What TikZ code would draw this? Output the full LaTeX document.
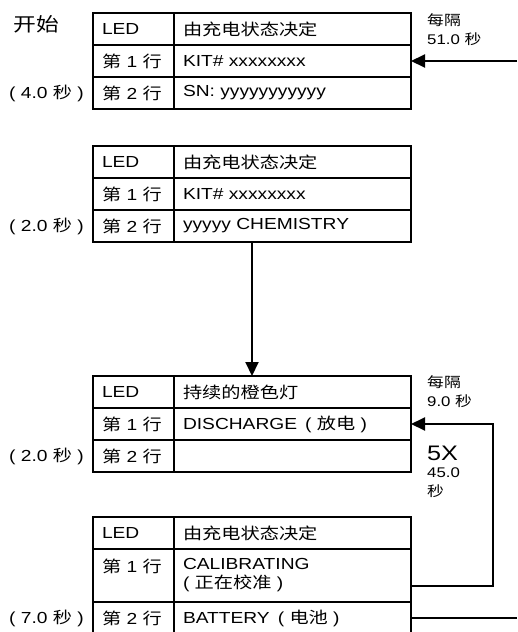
\documentclass[tikz,border=0pt]{standalone}
\usepackage{fontspec}
\setmainfont{Liberation Sans}[FakeStretch=1.2]
\newfontfamily\cjk{Noto Sans CJK SC}[FakeStretch=1.2]
\newcommand{\zh}[1]{{\cjk #1}}
\usepackage{tikz}
\usetikzlibrary{positioning, arrows.meta, calc}

\begin{document}
\begin{tikzpicture}[x=1pt, y=1pt, font=\fontsize{16}{19}\selectfont,
			cell/.style={draw, rectangle, line width=2pt, outer sep=0pt, inner xsep=9pt, inner ysep=0pt, minimum height=32pt, align=left},
			cola/.style={cell, text width=63pt},
			colb/.style={cell, text width=219pt},
			side/.style={inner sep=0pt, align=left},
			note/.style={side, anchor=north west, font=\fontsize{14}{19}\selectfont},
			arr/.style={line width=2pt, -{Triangle[length=14pt, width=13pt]}},
			wire/.style={line width=2pt}
			]
			\useasboundingbox (0,0) rectangle (517,-632);
			
			% first screen
			\node [cola, anchor=north west](t1a1) at (93,-13) {LED};
			\node [colb](t1b1) [right=0pt of t1a1] {\zh{由充电状态决定}};
			\node [cola](t1a2) [below=0pt of t1a1] {\zh{第} 1 \zh{行}};
			\node [colb](t1b2) [right=0pt of t1a2] {KIT\# xxxxxxxx};
			\node [cola](t1a3) [below=0pt of t1a2] {\zh{第} 2 \zh{行}};
			\node [colb](t1b3) [right=0pt of t1a3] {SN: yyyyyyyyyyy};
			
			% second screen
			\node [cola, anchor=north west](t2a1) at (93,-146) {LED};
			\node [colb](t2b1) [right=0pt of t2a1] {\zh{由充电状态决定}};
			\node [cola](t2a2) [below=0pt of t2a1] {\zh{第} 1 \zh{行}};
			\node [colb](t2b2) [right=0pt of t2a2] {KIT\# xxxxxxxx};
			\node [cola](t2a3) [below=0pt of t2a2] {\zh{第} 2 \zh{行}};
			\node [colb](t2b3) [right=0pt of t2a3] {yyyyy CHEMISTRY};
			
			% third screen
			\node [cola, anchor=north west](t3a1) at (93,-376) {LED};
			\node [colb](t3b1) [right=0pt of t3a1] {\zh{持续的橙色灯}};
			\node [cola](t3a2) [below=0pt of t3a1] {\zh{第} 1 \zh{行}};
			\node [colb](t3b2) [right=0pt of t3a2] {DISCHARGE\enspace( \zh{放电} )};
			\node [cola](t3a3) [below=0pt of t3a2] {\zh{第} 2 \zh{行}};
			\node [colb](t3b3) [right=0pt of t3a3] {};
			
			% fourth screen
			\node [cola, anchor=north west](t4a1) at (93,-517) {LED};
			\node [colb](t4b1) [right=0pt of t4a1] {\zh{由充电状态决定}};
			\node [cola, minimum height=53pt](t4a2) [below=0pt of t4a1] {\zh{第} 1 \zh{行}\\ \mbox{}};
			\node [colb, minimum height=53pt](t4b2) [right=0pt of t4a2] {CALIBRATING\\( \zh{正在校准} )};
			\node [cola](t4a3) [below=0pt of t4a2] {\zh{第} 2 \zh{行}};
			\node [colb](t4b3) [right=0pt of t4a3] {BATTERY\enspace( \zh{电池} )};
			
			% times on the left
			\node [side, font=\fontsize{19}{22}\selectfont](start) at (36,-24) {\zh{开始}};
			\node [side](d1) [left=9pt of t1a3] {( 4.0 \zh{秒} )};
			\node [side](d2) [left=9pt of t2a3] {( 2.0 \zh{秒} )};
			\node [side](d3) [left=9pt of t3a3] {( 2.0 \zh{秒} )};
			\node [side](d4) [left=9pt of t4a3] {( 7.0 \zh{秒} )};
			
			% notes on the right
			\node [note](n1) at (427,-13) {\zh{每隔}\\51.0 \zh{秒}};
			\node [note](n2) at (427,-375) {\zh{每隔}\\9.0 \zh{秒}};
			\node [side, anchor=north west, font=\fontsize{21}{21}\selectfont](rep) at (427,-446) {5X};
			\node [note](rept) [below=6pt of rep.south west, anchor=north west] {45.0\\\zh{秒}};
			
			\coordinate (in1) at (517,-61);
			\coordinate (out4) at (517,-618);
			\coordinate (m2) at ($(t2a3.south west)!.5!(t2b3.south east)$);
			\coordinate (m3) at ($(t3a1.north west)!.5!(t3b1.north east)$);
			
			\draw[arr] (in1) -- (t1b2.east);
			\draw[arr] (m2) -- (m3);
			\draw[arr] ([yshift=-10pt]t4b2.east) -- ++(82,0) |- (t3b2.east);
			\draw[wire] (t4b3.east) -- (out4);
			
		\end{tikzpicture}
\end{document}
